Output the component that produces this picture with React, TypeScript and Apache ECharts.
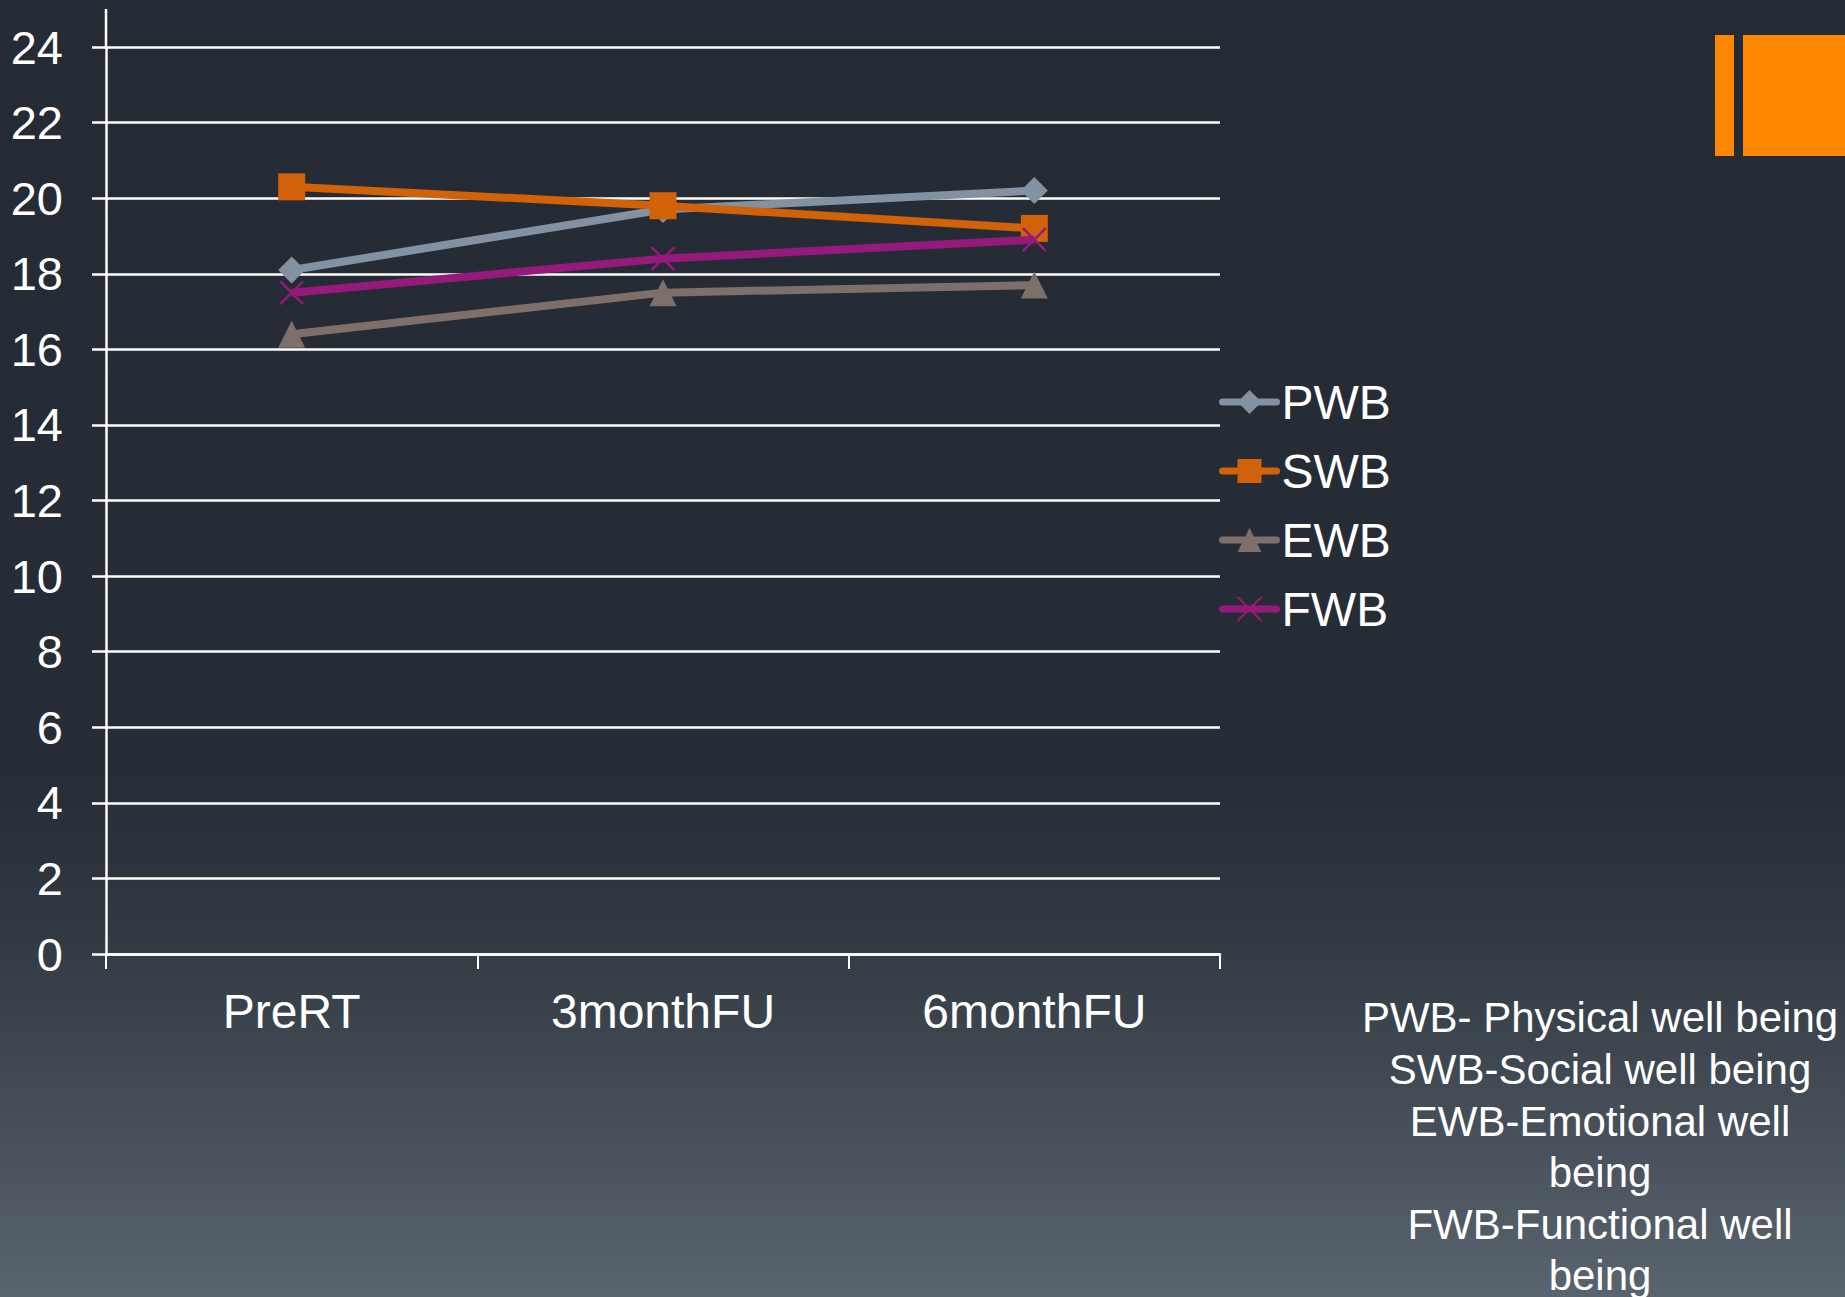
import React, { useEffect, useRef } from "react";
import * as echarts from "echarts";

// Quality-of-life domain scores over follow-up
const categories = ["PreRT", "3monthFU", "6monthFU"];
const pwb = [18.1, 19.7, 20.2];
const swb = [20.3, 19.8, 19.2];
const ewb = [16.4, 17.5, 17.7];
const fwb = [17.5, 18.4, 18.9];

const seriesNames = ["PWB", "SWB", "EWB", "FWB"];
const seriesColors = ["#8491a0", "#d2620a", "#7d6f69", "#951a7c"];

const footnoteLines = [
  "PWB- Physical well being",
  "SWB-Social well being",
  "EWB-Emotional well",
  "being",
  "FWB-Functional well",
  "being",
];

const FONT = "'Liberation Sans', Arial, sans-serif";
const CROSS = "path://M0,0 L10,10 M10,0 L0,10";

export default function App() {
  const ref = useRef<HTMLDivElement>(null);

  useEffect(() => {
    if (!ref.current) return;
    const chart = echarts.init(ref.current, undefined, { renderer: "svg" });

    const values = [pwb, swb, ewb, fwb];
    const symbols = ["diamond", "rect", "triangle", CROSS];

    const series = seriesNames.map((name, i) => ({
      name,
      type: "line",
      data: values[i],
      symbol: symbols[i],
      symbolSize: i === 3 ? 23 : 27,
      lineStyle: { color: seriesColors[i], width: 8 },
      itemStyle:
        i === 3
          ? { color: seriesColors[i], borderColor: seriesColors[i], borderWidth: 2.5 }
          : { color: seriesColors[i] },
      z: 3 + i,
    }));

    chart.setOption({
      animation: false,
      backgroundColor: {
        type: "linear",
        x: 0,
        y: 0,
        x2: 0,
        y2: 1,
        colorStops: [
          { offset: 0, color: "#242b34" },
          { offset: 0.6, color: "#262d36" },
          { offset: 0.72, color: "#313942" },
          { offset: 1, color: "#5a646e" },
        ],
      },
      textStyle: { fontFamily: FONT },
      grid: { left: 106, top: 47, width: 1114, height: 907, containLabel: false },
      xAxis: {
        type: "category",
        data: categories,
        boundaryGap: true,
        axisLine: { show: true, lineStyle: { color: "#ffffff", width: 2.5 } },
        axisTick: { show: true, length: 15, lineStyle: { color: "#ffffff", width: 2 } },
        axisLabel: { color: "#ffffff", fontSize: 48, fontFamily: FONT, margin: 33 },
        splitLine: { show: false },
      },
      yAxis: {
        type: "value",
        min: 0,
        max: 24,
        interval: 2,
        axisLine: { show: true, lineStyle: { color: "#ffffff", width: 2.5 } },
        axisTick: { show: true, length: 14, lineStyle: { color: "#ffffff", width: 2.5 } },
        axisLabel: { color: "#ffffff", fontSize: 47, fontFamily: FONT, margin: 43 },
        splitLine: { show: true, lineStyle: { color: "#ffffff", width: 2.5 } },
      },
      legend: {
        orient: "vertical",
        left: 1219,
        top: 378,
        padding: 0,
        itemWidth: 54,
        itemHeight: 30,
        itemGap: 21,
        data: seriesNames,
        lineStyle: { width: 7, cap: "round" },
        textStyle: { color: "#ffffff", fontSize: 48, fontFamily: FONT, lineHeight: 48 },
      },
      graphic: [
        // axis line continues above the last gridline
        {
          type: "line",
          shape: { x1: 106, y1: 9, x2: 106, y2: 47 },
          style: { stroke: "#ffffff", lineWidth: 2.5 },
        },
        // accent bars, top right
        {
          type: "rect",
          shape: { x: 1715, y: 35, width: 19, height: 121 },
          style: { fill: "#ff8600" },
        },
        {
          type: "rect",
          shape: { x: 1743, y: 35, width: 102, height: 121 },
          style: { fill: "#ff8600" },
        },
        {
          type: "text",
          x: 1600,
          y: 992,
          style: {
            text: footnoteLines.join("\n"),
            fill: "#ffffff",
            fontSize: 42,
            fontFamily: FONT,
            lineHeight: 51.6,
            align: "center",
            verticalAlign: "top",
          },
        },
      ],
      series,
    });

    return () => chart.dispose();
  }, []);

  return (
    <div
      ref={ref}
      style={{ position: "fixed", left: 0, top: 0, width: 1845, height: 1297 }}
    />
  );
}
